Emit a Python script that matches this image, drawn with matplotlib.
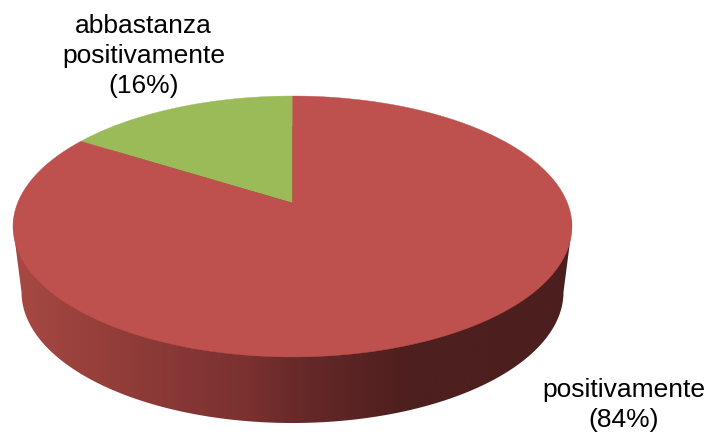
import numpy as np
import matplotlib
matplotlib.use("Agg")
import matplotlib.pyplot as plt
from matplotlib.colors import LinearSegmentedColormap
from matplotlib.patches import Polygon

labels = ["abbastanza\npositivamente\n(16%)", "positivamente\n(84%)"]
values = [16, 84]
colors = ["#9bbb59", "#be504d"]

plt.rcParams["font.family"] = ["Liberation Sans", "DejaVu Sans"]

fig = plt.figure(figsize=(7.07, 4.32), dpi=100)
ax = fig.add_axes([0, 0, 1, 1])

# pie gives the slice angles, then they get warped to the tilted view
wedges, _ = ax.pie(values, colors=colors, startangle=90)
angles = [(w.theta1, w.theta2) for w in wedges]
for w in wedges:
    w.remove()

ax.set_aspect("auto")
ax.set_xlim(0, 707)
ax.set_ylim(432, 0)
ax.axis("off")


def warp(u, v):
    # perspective map from the unit circle to pixels
    d = 1 + 0.18 * v
    return np.column_stack([292.5 + 274.9 * u / d, (203 - 89.7 * v) / d])


# side wall: gradient clipped to the outline of the rim
t = np.linspace(np.pi, 2 * np.pi, 200)
bottom = np.column_stack([292.5 + 271 * np.cos(t), 292 - 131 * np.sin(t)])
t2 = np.linspace(0, np.pi, 100)
top = np.column_stack([292.5 + 279.5 * np.cos(t2), 226.5 - 100 * np.sin(t2)])
rim = Polygon(np.vstack([bottom, top]), closed=True, transform=ax.transData,
              facecolor="none", edgecolor="none")
ax.add_patch(rim)

side_cmap = LinearSegmentedColormap.from_list(
    "side",
    [(0.0, "#a84943"), (0.15, "#963f3b"), (0.42, "#7a3130"),
     (0.5, "#6a2a2a"), (0.7, "#4e1f1e"), (1.0, "#4c1f1f")],
)
grad = np.linspace(0, 1, 256).reshape(1, -1)
im = ax.imshow(grad, cmap=side_cmap, extent=(13, 572, 432, 90), aspect="auto", zorder=1)
im.set_clip_path(rim)
ax.set_xlim(0, 707)
ax.set_ylim(432, 0)

# top face
for (a1, a2), col in zip(angles, colors):
    th = np.radians(np.linspace(a1, a2, 300))
    pts = warp(np.cos(th), np.sin(th))
    pts = np.vstack([warp(np.array([0.0]), np.array([0.0])), pts])
    ax.add_patch(Polygon(pts, closed=True, facecolor=col, edgecolor=col,
                         linewidth=0.3, zorder=2))

ax.text(143.5, 56, labels[0], ha="center", va="center", fontsize=19,
        color="black", linespacing=1.3, zorder=3)
ax.text(623.5, 405, labels[1], ha="center", va="center", fontsize=19,
        color="black", linespacing=1.3, zorder=3)

fig.savefig("out.png", dpi=100)
